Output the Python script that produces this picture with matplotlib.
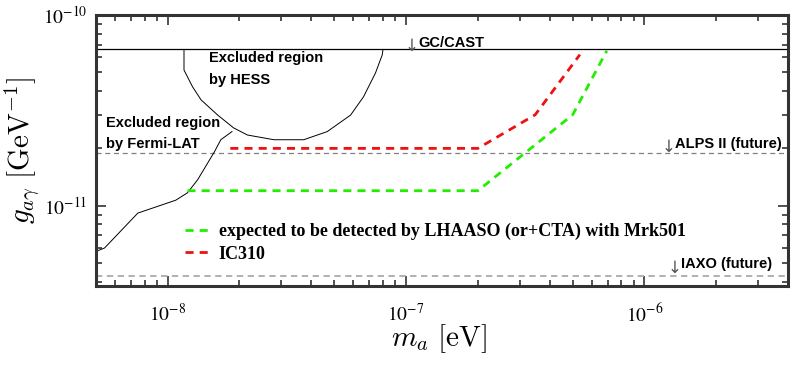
import numpy as np
import matplotlib
matplotlib.use("Agg")
import matplotlib.pyplot as plt
from matplotlib.ticker import LogLocator, FixedLocator, FixedFormatter, NullFormatter

plt.rcParams['mathtext.fontset'] = 'stix'

# reference limits
g_cast = 6.6e-11
g_alps = 1.9e-11
g_iaxo = 4.27e-12

# HESS excluded contour
hess_m = [1.17e-8, 1.17e-8, 1.27e-8, 1.38e-8, 1.62e-8, 1.89e-8, 2.16e-8, 2.79e-8,
          3.72e-8, 4.67e-8, 5.85e-8, 6.63e-8, 7.44e-8, 7.94e-8, 8.0e-8]
hess_g = [6.6e-11, 5.15e-11, 4.21e-11, 3.59e-11, 2.99e-11, 2.56e-11, 2.35e-11, 2.22e-11,
          2.22e-11, 2.45e-11, 2.99e-11, 3.73e-11, 4.97e-11, 6.18e-11, 6.6e-11]

# Fermi-LAT excluded contour
fermi_m = [5.0e-9, 5.43e-9, 7.49e-9, 1.08e-8, 1.21e-8, 1.335e-8, 1.57e-8, 1.67e-8, 1.86e-8]
fermi_g = [5.77e-12, 6.01e-12, 9.16e-12, 1.07e-11, 1.17e-11, 1.37e-11, 1.92e-11, 2.22e-11, 2.45e-11]

# LHAASO (or+CTA) with Mrk501
lhaaso_m = [1.21e-8, 2.0e-7, 5.0e-7, 6.95e-7]
lhaaso_g = [1.2e-11, 1.2e-11, 3.0e-11, 6.5e-11]

# IC310
ic310_m = [1.83e-8, 2.0e-7, 3.48e-7, 5.36e-7]
ic310_g = [2.0e-11, 2.0e-11, 3.0e-11, 6.2e-11]

fig = plt.figure(figsize=(7.94, 3.67), dpi=100)
ax = fig.add_axes([0.1209, 0.2207, 0.8715, 0.7384])

ax.axhline(g_cast, color='black', lw=0.9)
ax.axhline(g_alps, color='#808080', lw=0.9, ls=(0, (4, 3)))
ax.axhline(g_iaxo, color='#aaaaaa', lw=1.3, ls=(0, (3.5, 2.5)))

ax.plot(hess_m, hess_g, color='black', lw=0.7)
ax.plot(fermi_m, fermi_g, color='black', lw=0.7)

ax.plot(lhaaso_m, lhaaso_g, color='#22ee00', lw=2.0, ls=(0, (2.9, 2.2)),
        label='expected to be detected by LHAASO (or+CTA) with Mrk501')
ax.plot(ic310_m, ic310_g, color='#ee1111', lw=2.0, ls=(0, (2.9, 2.2)),
        label='IC310')

ax.set_xscale('log')
ax.set_yscale('log')
ax.set_xlim(5.0e-9, 4.0e-6)
ax.set_ylim(3.8e-12, 1e-10)

ax.xaxis.set_major_locator(FixedLocator([1e-8, 1e-7, 1e-6]))
ax.xaxis.set_major_formatter(FixedFormatter([r'$10^{-8}$', r'$10^{-7}$', r'$10^{-6}$']))
ax.yaxis.set_major_locator(FixedLocator([1e-11, 1e-10]))
ax.yaxis.set_major_formatter(FixedFormatter([r'$10^{-11}$', r'$10^{-10}$']))
ax.xaxis.set_minor_locator(LogLocator(base=10, subs=np.arange(2, 10)))
ax.yaxis.set_minor_locator(LogLocator(base=10, subs=np.arange(2, 10)))
ax.xaxis.set_minor_formatter(NullFormatter())
ax.yaxis.set_minor_formatter(NullFormatter())

ax.tick_params(which='both', direction='in', top=True, right=True, color='#333333', width=1.2)
ax.tick_params(which='major', length=7, labelsize=14)
ax.tick_params(axis='x', which='major', pad=12)
ax.tick_params(axis='y', which='major', pad=6)
ax.tick_params(which='minor', length=4)
for sp in ax.spines.values():
    sp.set_linewidth(2.2)
    sp.set_color('#333333')

ax.set_xlabel(r'$m_a\ [\mathrm{eV}]$', fontsize=21, math_fontfamily='cm')
ax.set_ylabel(r'$g_{a\gamma}\ [\mathrm{GeV}^{-1}]$', fontsize=21, math_fontfamily='cm')
ax.xaxis.set_label_coords(0.496, -0.135)
ax.yaxis.set_label_coords(-0.078, 0.5)

bold = dict(fontsize=10.5, fontweight='bold', family='Liberation Sans', transform=ax.transAxes)
ax.text(0.163, 0.827, 'Excluded region', **bold)
ax.text(0.163, 0.745, 'by HESS', **bold)
ax.text(0.0145, 0.587, 'Excluded region', **bold)
ax.text(0.0145, 0.509, 'by Fermi-LAT', **bold)

arrow = dict(fontsize=12, color='#555555', family='DejaVu Sans', transform=ax.transAxes)
ax.text(0.446, 0.866, '↓', **arrow)
ax.text(0.466, 0.882, 'GC/CAST', **bold)
ax.text(0.817, 0.493, '↓', **arrow)
ax.text(0.837, 0.509, 'ALPS II (future)', **bold)
ax.text(0.826, 0.049, '↓', **arrow)
ax.text(0.846, 0.065, 'IAXO (future)', **bold)

ax.legend(loc='center left', bbox_to_anchor=(0.129, 0.16), frameon=False, borderpad=0,
          borderaxespad=0, prop={'family': 'Liberation Serif', 'weight': 'bold', 'size': 13},
          handlelength=1.3, handletextpad=0.55, labelspacing=0.3)

fig.savefig('out.png', dpi=100)
